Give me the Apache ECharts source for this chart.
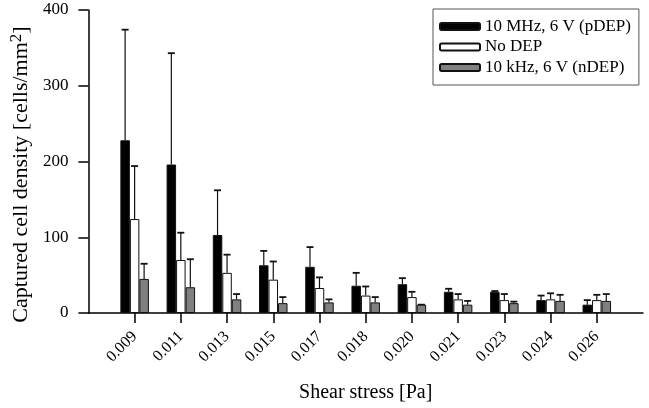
<!DOCTYPE html>
<html><head><meta charset="utf-8">
<script src="https://cdn.jsdelivr.net/npm/echarts@6/dist/echarts.min.js"></script>
<style>html,body{margin:0;padding:0;background:#fff}#c{width:649px;height:408px}</style>
</head><body><div id="c"></div>
<script>
const categories = ['0.009','0.011','0.013','0.015','0.017','0.018','0.020','0.021','0.023','0.024','0.026'];
const seriesNames = ['10 MHz, 6 V (pDEP)', 'No DEP', '10 kHz, 6 V (nDEP)'];
const pdepMean = [228, 196, 103, 63, 61, 36, 38, 28, 28, 17, 11];
const pdepUpper = [374, 343, 162, 82, 87, 53, 46, 32, 29, 23, 17];
const nodepMean = [124, 70, 53, 44, 33, 23, 21, 18, 17, 18, 17];
const nodepUpper = [194, 106, 77, 68, 47, 35, 28, 25, 25, 26, 24];
const ndepMean = [45, 34, 18, 13, 14, 14, 11, 11, 13, 16, 16];
const ndepUpper = [65, 71, 25, 21, 18, 21, 11, 16, 15, 24, 25];
const yTicks = [0, 100, 200, 300, 400];

const cats = [''].concat(categories, ['']);
const pad = arr => [null].concat(arr, [null]);
const means = [pdepMean, nodepMean, ndepMean];
const uppers = [pdepUpper, nodepUpper, ndepUpper];
const fills = ['#000000', '#ffffff', '#808080'];
const BW = 9.5;
const FONT = '"Liberation Serif", "Times New Roman", serif';

const series = [];
means.forEach((m, k) => {
  series.push({
    name: seriesNames[k], type: 'bar', data: pad(m), barWidth: BW, barGap: '0%',
    itemStyle: {color: fills[k], borderColor: '#111', borderWidth: 1},
    z: 2
  });
});
means.forEach((m, k) => {
  const d = m.map((v, i) => [i + 1, v, uppers[k][i]]);
  series.push({
    type: 'custom', z: 1, silent: true,
    data: d,
    renderItem: (params, api) => {
      const cx = api.coord([api.value(0), 0])[0] + (k - 1) * BW;
      const yb = api.coord([api.value(0), api.value(1)])[1];
      const yt = api.coord([api.value(0), api.value(2)])[1];
      const st = {stroke: '#111', lineWidth: 1.2};
      return {type: 'group', children: [
        {type: 'line', shape: {x1: cx, y1: yb, x2: cx, y2: yt}, style: st},
        {type: 'line', shape: {x1: cx - 3.5, y1: yt, x2: cx + 3.5, y2: yt}, style: {stroke: '#111', lineWidth: 1.8}}
      ]};
    }
  });
});

const chart = echarts.init(document.getElementById('c'), null, {renderer: 'canvas'});
chart.setOption({
  animation: false,
  backgroundColor: '#fff',
  textStyle: {fontFamily: FONT, color: '#000'},
  grid: {left: 84, top: 10, right: 6, bottom: 95, containLabel: false},
  legend: {
    data: seriesNames, orient: 'vertical', left: 433, top: 9,
    padding: [9, 8, 9, 6], itemGap: 3.5, itemWidth: 40, itemHeight: 7,
    borderColor: '#555', borderWidth: 1,
    textStyle: {fontFamily: FONT, fontSize: 17, color: '#000'}
  },
  xAxis: {
    type: 'category', data: cats, boundaryGap: false,
    name: 'Shear stress [Pa]', nameLocation: 'middle', nameGap: 70,
    nameTextStyle: {fontFamily: FONT, fontSize: 20, color: '#000'},
    axisLine: {lineStyle: {color: '#000', width: 1.5}},
    axisTick: {length: 10, lineStyle: {color: '#000', width: 1.5}, interval: (i) => i > 0 && i < cats.length - 1},
    axisLabel: {rotate: 45, margin: 21, fontFamily: FONT, fontSize: 16, color: '#000', interval: 0},
    splitLine: {show: false}
  },
  yAxis: {
    type: 'value', min: yTicks[0], max: yTicks[yTicks.length - 1], interval: 100,
    name: '{a|Captured cell density [cells/mm}{s|2}{a|]}', nameLocation: 'middle', nameGap: 47,
    nameTextStyle: {
      fontFamily: FONT, fontSize: 22, color: '#000', padding: [0, 26, 0, 0],
      rich: {
        a: {fontFamily: FONT, fontSize: 22, color: '#000', lineHeight: 26},
        s: {fontFamily: FONT, fontSize: 17, color: '#000', verticalAlign: 'top', lineHeight: 26}
      }
    },
    axisLine: {show: true, lineStyle: {color: '#000', width: 1.5}},
    axisTick: {show: true, length: 10, lineStyle: {color: '#000', width: 1.5}},
    axisLabel: {margin: 20, fontFamily: FONT, fontSize: 17, color: '#000'},
    splitLine: {show: false}
  },
  series: series
});
</script></body></html>
